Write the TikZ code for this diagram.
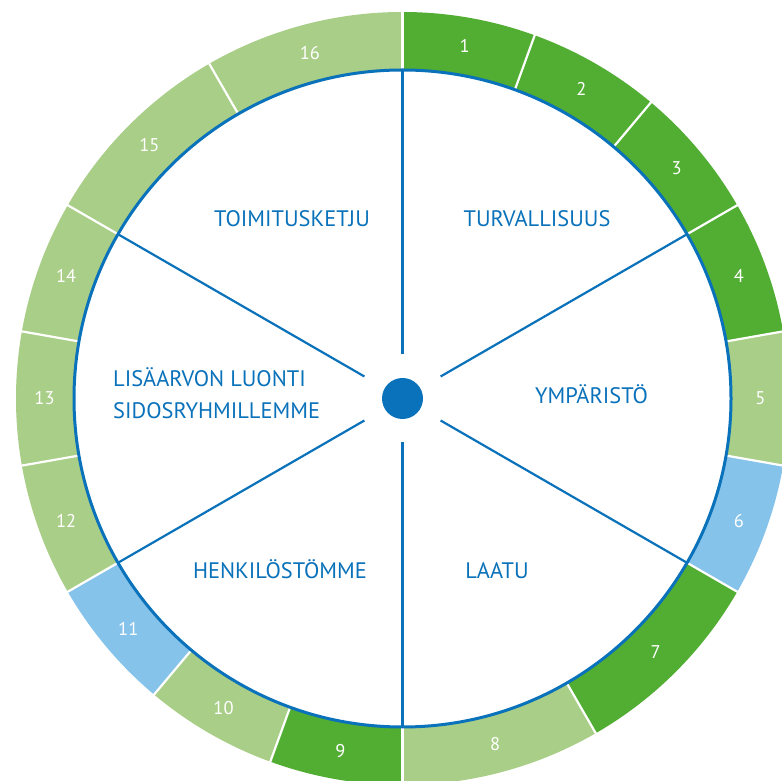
\documentclass[tikz,border=0pt]{standalone}
\usepackage{fontspec}
\setmainfont{PT Sans}
\definecolor{dgreen}{HTML}{52AD33}
\definecolor{lgreen}{HTML}{A9CE87}
\definecolor{lblue}{HTML}{86C3EA}
\definecolor{mblue}{HTML}{0A72BA}
\begin{document}
\begin{tikzpicture}[x=1bp,y=1bp,
  numlabel/.style={text=white,font=\fontsize{18.5}{22}\selectfont,inner sep=0pt},
  catlabel/.style={text=mblue,font=\fontsize{22.5}{26}\selectfont,inner sep=0pt},
  divider/.style={draw=white,line width=2.2bp},
  spoke/.style={draw=mblue,line width=2.2bp},
  rimline/.style={draw=mblue,line width=3bp}]
\useasboundingbox (0,0) rectangle (782,781);
\clip (0,0) rectangle (782,781);
\fill[white] (0,0) rectangle (782,781);
\begin{scope}[shift={(402.5,382.5)}]
  \foreach \k/\sa/\ea/\c in {1/90/70/dgreen,2/70/50/dgreen,3/50/30/dgreen,4/30/10/dgreen,
      5/10/-10/lgreen,6/-10/-30/lblue,7/-30/-60/dgreen,8/-60/-90/lgreen,
      9/-90/-110/dgreen,10/-110/-130/lgreen,11/-130/-150/lblue,12/-150/-170/lgreen,
      13/-170/-190/lgreen,14/-190/-210/lgreen,15/-210/-240/lgreen,16/-240/-270/lgreen}{
    \pgfmathsetmacro\ma{(\sa+\ea)/2}
    \fill[\c] (\sa:328.5) arc[start angle=\sa,end angle=\ea,radius=328.5] -- (\ea:386.5) arc[start angle=\ea,end angle=\sa,radius=386.5] -- cycle;
    \node[numlabel] (n\k) at (\ma:358) {\k};
  }
  \foreach \b in {90,70,50,30,10,-10,-30,-60,-90,-110,-130,-150,-170,-190,-210,-240}{
    \draw[divider] (\b:329) -- (\b:390);
  }
  \fill[white] (0,0) circle[radius=328.5];
  \draw[rimline] (0,0) circle[radius=328.5];
  \foreach \a in {90,30,-30,-90,-150,150}{
    \draw[spoke] (\a:44) -- (\a:328.5);
  }
  \node[circle,fill=mblue,minimum size=41bp,inner sep=0pt] (hub) at (0,0) {};
\end{scope}
\node[catlabel,anchor=base] (turv) at (537,554) {TURVALLISUUS};
\node[catlabel,anchor=base] (toim) at (292,554) {TOIMITUSKETJU};
\node[catlabel,anchor=base] (ymp) at (591.5,377) {YMPÄRISTÖ};
\node[catlabel,anchor=base] (laatu) at (497,202) {LAATU};
\node[catlabel,anchor=base] (henk) at (280,202) {HENKILÖSTÖMME};
\node[catlabel,anchor=base west] (lisa1) at (113,394) {LISÄARVON LUONTI};
\node[catlabel,anchor=base west] (lisa2) at (113,362) {SIDOSRYHMILLEMME};
\end{tikzpicture}
\end{document}
